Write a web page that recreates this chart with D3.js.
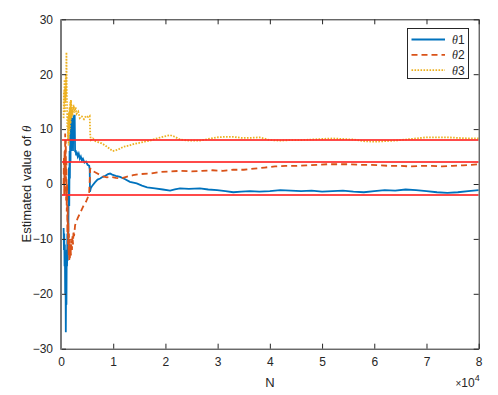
<!DOCTYPE html>
<html><head><meta charset="utf-8">
<script src="https://cdn.jsdelivr.net/npm/d3@7"></script>
<style>body{margin:0;background:#fff}svg{display:block}text{font-family:"Liberation Sans",Arial,sans-serif;fill:#262626}</style>
</head><body><svg id="c" width="498" height="395"></svg>
<script>
const xTicks=[0,1,2,3,4,5,6,7,8];
const yTicks=[-30,-20,-10,0,10,20,30];
const trueValues=[8,4,-2];
const seriesNames=["θ1","θ2","θ3"];
const theta1=[[500,-8],[560,-12],[620,-9],[680,-15],[740,-11],[800,-20],[860,-14],[920,-27],[980,-18],[1040,-22],[1100,-12],[1160,-15],[1220,-9],[1280,-14],[1340,-6],[1400,-10],[1460,-2],[1520,3],[1580,-4],[1640,6],[1700,1],[1760,9],[1820,4],[1880,12],[1940,6],[2000,13],[2060,8],[2120,12],[2180,7],[2240,11],[2300,6],[2360,12],[2420,8],[2480,12.5],[2560,10],[2620,12.6],[2700,5.8],[2800,6.2],[2900,5.2],[3000,5.9],[3200,5.0],[3400,5.5],[3600,4.6],[3800,5.0],[4000,4.3],[4200,4.6],[4500,3.9],[4800,4.1],[5100,3.5],[5400,3.3],[5500,2.6],[5550,-1.4],[5700,-0.8],[6000,-0.3],[6500,0.3],[7000,0.8],[7500,1.0],[8000,1.3],[8500,1.5],[9000,1.8],[9400,1.9],[9800,1.7],[10500,1.5],[11300,1.3],[12200,0.9],[13200,0.4],[14500,0.1],[15500,-0.3],[16500,-0.6],[18000,-0.8],[19500,-1.0],[20900,-1.2],[21800,-1.0],[22800,-0.8],[24500,-0.9],[26600,-0.8],[28200,-1.0],[29900,-1.1],[31500,-1.3],[33000,-1.5],[34500,-1.4],[36200,-1.3],[38000,-1.4],[40000,-1.3],[42000,-1.1],[44000,-1.2],[46000,-1.3],[48000,-1.2],[50000,-1.4],[52000,-1.3],[54000,-1.2],[56000,-1.4],[58000,-1.5],[60000,-1.3],[62000,-1.1],[64000,-1.2],[66000,-1.0],[68000,-1.1],[70000,-1.3],[72000,-1.5],[74000,-1.6],[76000,-1.5],[78000,-1.3],[80000,-1.1]];
const theta2=[[500,0],[560,5],[620,-2],[680,6],[740,1],[800,9.2],[860,3],[920,8],[980,-3],[1040,4],[1100,-5],[1160,0],[1220,-9],[1280,-4],[1340,-11],[1400,-7],[1460,-13],[1520,-9],[1580,-14],[1640,-10],[1700,-13.5],[1800,-11],[1900,-13],[2000,-10],[2100,-12],[2200,-9.5],[2300,-11],[2400,-8.5],[2500,-9.5],[2700,-7.5],[2900,-7],[3200,-6.2],[3500,-5.6],[3900,-4.8],[4300,-4],[4800,-3.2],[5200,-2.3],[5400,-1.5],[5500,0.5],[5600,2.9],[5800,2.5],[6200,2.3],[6800,2.0],[7400,1.7],[8000,1.4],[8800,1.2],[9500,1.3],[10500,1.1],[11500,1.0],[12500,1.3],[13800,1.6],[15000,1.8],[17000,1.9],[19000,2.2],[21000,2.3],[23000,2.4],[25000,2.3],[27000,2.4],[29000,2.5],[31000,2.4],[33000,2.6],[35000,2.6],[37000,2.8],[39000,3.0],[41000,3.2],[43000,3.3],[45000,3.3],[47000,3.4],[49000,3.5],[51000,3.6],[53000,3.6],[55000,3.6],[57000,3.5],[59000,3.5],[61000,3.4],[63000,3.3],[65000,3.3],[67000,3.2],[69000,3.3],[71000,3.3],[73000,3.2],[75000,3.3],[77000,3.4],[80000,3.6]];
const theta3=[[500,12],[560,17],[620,14],[680,19],[740,13],[800,17.5],[860,15],[920,20],[980,16],[1040,24],[1100,18],[1160,14],[1220,10],[1280,13],[1340,8],[1400,12],[1460,7],[1520,13],[1580,9],[1640,14],[1700,10],[1760,15],[1820,11],[1900,15.3],[2000,12],[2100,14],[2200,12.5],[2400,14.4],[2600,13],[2800,14],[3000,12.8],[3300,13.2],[3600,12.0],[4000,12.3],[4400,11.8],[4800,12.4],[5200,12.2],[5500,12.4],[5600,9.0],[5700,8.0],[6100,8.3],[6600,7.8],[7200,7.6],[7800,7.4],[8500,7.0],[9200,6.5],[9900,6.0],[10400,6.1],[11200,6.4],[12000,6.8],[13000,7.0],[14000,7.3],[15000,7.5],[16000,7.7],[17000,7.9],[18000,8.2],[19500,8.6],[20900,8.9],[21800,8.6],[22800,8.1],[24500,7.9],[26600,7.9],[28200,8.2],[29900,8.5],[31500,8.6],[33000,8.6],[34500,8.4],[36200,8.4],[38000,8.5],[40000,8.0],[42000,7.9],[44000,8.0],[46000,8.0],[48000,8.1],[50000,8.2],[52000,8.3],[54000,8.2],[56000,8.1],[58000,7.8],[60000,7.7],[62000,7.8],[64000,7.9],[66000,8.1],[68000,8.3],[70000,8.5],[72000,8.5],[74000,8.5],[76000,8.4],[78000,8.3],[80000,8.3]];

const L=61,R=478.7,T=19.3,B=348.7;
const svg=d3.select("#c");
const x=d3.scaleLinear().domain([0,80000]).range([L,R]);
const y=d3.scaleLinear().domain([-30,30]).range([B,T]);
svg.append("clipPath").attr("id","clip").append("rect").attr("x",L).attr("y",T).attr("width",R-L).attr("height",B-T);
const g=svg.append("g").attr("clip-path","url(#clip)");
const line=d3.line().x(d=>x(d[0])).y(d=>y(d[1]));
const styles=[
 {data:theta1,color:"#0072BD",dash:null,w:1.8},
 {data:theta2,color:"#D95319",dash:"6,4",w:1.8},
 {data:theta3,color:"#EDB120",dash:"1.6,1.4",w:1.8}];
styles.forEach(s=>{g.append("path").datum(s.data).attr("d",line).attr("fill","none").attr("stroke",s.color).attr("stroke-width",s.w).attr("stroke-dasharray",s.dash);});
trueValues.forEach(v=>{g.append("line").attr("x1",L).attr("x2",R).attr("y1",y(v)).attr("y2",y(v)).attr("stroke","#ff2a2a").attr("stroke-opacity",0.85).attr("stroke-width",2);});

// axes
const ax=svg.append("g");
const xb=d3.axisBottom(x).tickValues(xTicks.map(t=>t*1e4)).tickFormat(d=>d/1e4).tickSizeInner(-5).tickSizeOuter(0).tickPadding(9);
const xt=d3.axisTop(x).tickValues(xTicks.map(t=>t*1e4)).tickFormat("").tickSizeInner(-5).tickSizeOuter(0);
const yl=d3.axisLeft(y).tickValues(yTicks).tickSizeInner(-5).tickSizeOuter(0).tickPadding(8);
const yr=d3.axisRight(y).tickValues(yTicks).tickFormat("").tickSizeInner(-5).tickSizeOuter(0);
function style(sel){sel.selectAll("path").attr("stroke","#262626");sel.selectAll("line").attr("stroke","#262626");sel.selectAll("text").attr("font-size",12).attr("fill","#262626").attr("font-family","Liberation Sans, Arial, sans-serif");}
ax.append("g").attr("transform",`translate(0,${B})`).call(xb).call(style);
ax.append("g").attr("transform",`translate(0,${T})`).call(xt).call(style);
ax.append("g").attr("transform",`translate(${L},0)`).call(yl).call(style);
ax.append("g").attr("transform",`translate(${R},0)`).call(yr).call(style);
// left axis appearance (grey thick)
svg.append("line").attr("x1",L).attr("x2",L).attr("y1",T).attr("y2",B+1).attr("stroke","#7a7a7a").attr("stroke-width",2);

svg.append("text").attr("x",(L+R)/2).attr("y",387).attr("text-anchor","middle").attr("font-size",13).text("N");
const ex=svg.append("text").attr("x",R+1).attr("y",387).attr("text-anchor","end").attr("font-size",12);
ex.append("tspan").attr("font-size",10).text("×");
ex.append("tspan").text("10");
ex.append("tspan").attr("font-size",9).attr("dy",-6).text("4");
const yt=svg.append("text").attr("transform",`translate(31,${(T+B)/2}) rotate(-90)`).attr("text-anchor","middle").attr("font-size",13);
yt.append("tspan").text("Estimated value of ");
yt.append("tspan").attr("font-family","Liberation Serif, Times New Roman, serif").attr("font-style","italic").text("θ");

// legend
const lg=svg.append("g");
lg.append("rect").attr("x",407.5).attr("y",28.5).attr("width",61).attr("height",50).attr("fill","#fff").attr("stroke","#262626").attr("stroke-width",1);
styles.forEach((s,i)=>{
 const yy=39.5+i*15.3;
 lg.append("line").attr("x1",411.5).attr("x2",445).attr("y1",yy).attr("y2",yy).attr("stroke",s.color).attr("stroke-width",1.8).attr("stroke-dasharray",s.dash);
 const t=lg.append("text").attr("x",452).attr("y",yy+4.5).attr("font-size",12);
 t.append("tspan").attr("font-family","Liberation Serif, Times New Roman, serif").attr("font-style","italic").text(seriesNames[i][0]);
 t.append("tspan").text(seriesNames[i].slice(1));
});
</script></body></html>
